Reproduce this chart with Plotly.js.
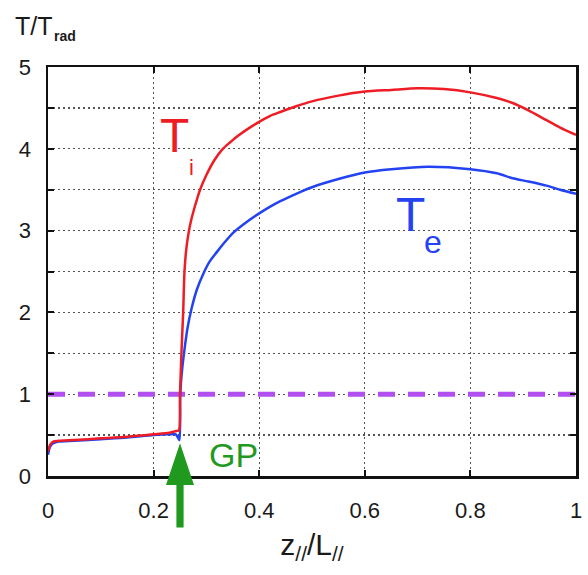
<!DOCTYPE html>
<html>
<head>
<meta charset="utf-8">
<script src="https://cdn.plot.ly/plotly-3.0.1.min.js"></script>
<style>
  html, body { margin: 0; padding: 0; background: #fff; }
  #chart { width: 588px; height: 575px; }
</style>
</head>
<body>
<div id="chart"></div>
<script>
// Ion temperature profile along the field line (normalised)
const zTi = [0, 0.004, 0.01, 0.02, 0.05, 0.10, 0.15, 0.20, 0.23, 0.243, 0.248,
  0.250, 0.253, 0.256, 0.2585, 0.262, 0.267, 0.272, 0.277, 0.282, 0.288, 0.30,
  0.315, 0.331, 0.345, 0.36, 0.38, 0.40, 0.42, 0.44, 0.47, 0.50, 0.55, 0.60,
  0.65, 0.70, 0.75, 0.80, 0.85, 0.88, 0.91, 0.944, 0.97, 1.0];
const Ti = [0.30, 0.38, 0.42, 0.43, 0.44, 0.46, 0.48, 0.51, 0.53, 0.55, 0.56,
  1.0, 1.55, 2.0, 2.5, 2.78, 3.0, 3.15, 3.27, 3.38, 3.5, 3.68,
  3.86, 4.0, 4.08, 4.16, 4.25, 4.33, 4.40, 4.45, 4.52, 4.58, 4.65, 4.70,
  4.72, 4.74, 4.73, 4.69, 4.62, 4.56, 4.47, 4.35, 4.26, 4.17];

// Electron temperature profile
const zTe = [0, 0.004, 0.01, 0.02, 0.05, 0.10, 0.15, 0.20, 0.23, 0.242, 0.246,
  0.249, 0.2505, 0.254, 0.258, 0.264, 0.272, 0.282, 0.294, 0.306, 0.32, 0.335,
  0.35, 0.375, 0.40, 0.42, 0.44, 0.47, 0.50, 0.55, 0.60, 0.65, 0.72, 0.80,
  0.85, 0.88, 0.91, 0.944, 0.97, 1.0];
const Te = [0.26, 0.36, 0.40, 0.42, 0.43, 0.45, 0.47, 0.50, 0.51, 0.51, 0.47,
  0.44, 1.0, 1.3, 1.52, 1.8, 2.05, 2.28, 2.47, 2.62, 2.74, 2.86,
  2.97, 3.10, 3.21, 3.29, 3.36, 3.45, 3.53, 3.63, 3.71, 3.75, 3.78, 3.75,
  3.70, 3.64, 3.60, 3.55, 3.50, 3.45];

// Reference level T = T_rad
const refX = [0, 1];
const refY = [1, 1];

// Axis ticks
const xTicks = [0, 0.2, 0.4, 0.6, 0.8, 1];
const xTickText = ['0', '0.2', '0.4', '0.6', '0.8', '1'];
const yTicks = [0, 1, 2, 3, 4, 5];
const yTickText = ['0', '1', '2', '3', '4', '5'];
const yMinorTicks = [0.5, 1.5, 2.5, 3.5, 4.5];

// Gas puff location along z
const gpZ = 0.25;

const xRange = [0, 1];
const yRange = [0, 5];
const FONT = 'Liberation Sans, Arial, sans-serif';
const GREEN = '#1f9a1f';
const GRID = { gridcolor: '#555', gridwidth: 1.3, griddash: '2px,3px' };

const traces = [
  { x: refX, y: refY, mode: 'lines', hoverinfo: 'skip',
    line: { color: '#b24ff0', width: 5, dash: '17px,13px' } },
  { x: zTe, y: Te, mode: 'lines', name: 'Te',
    line: { color: '#2342f2', width: 2.5, shape: 'spline', smoothing: 0.7 } },
  { x: zTi, y: Ti, mode: 'lines', name: 'Ti',
    line: { color: '#ee1c24', width: 2.5, shape: 'spline', smoothing: 0.7 } }
];

// arrow below the GP location, drawn in axis-domain units
const gx = (gpZ - xRange[0]) / (xRange[1] - xRange[0]);
const dy = v => (v - yRange[0]) / (yRange[1] - yRange[0]);
const tipY = dy(0.40), baseY = dy(-0.11), tailY = dy(-0.63);
const headHalf = 0.0265, shaftHalf = 0.0068;
const arrowPath = 'M ' + (gx - shaftHalf) + ' ' + tailY +
  ' L ' + (gx - shaftHalf) + ' ' + baseY +
  ' L ' + (gx - headHalf) + ' ' + baseY +
  ' L ' + gx + ' ' + tipY +
  ' L ' + (gx + headHalf) + ' ' + baseY +
  ' L ' + (gx + shaftHalf) + ' ' + baseY +
  ' L ' + (gx + shaftHalf) + ' ' + tailY + ' Z';

const axisCommon = Object.assign({
  showline: true, linecolor: '#111', linewidth: 2.5, mirror: 'ticks',
  ticks: 'inside', ticklen: 6, tickwidth: 2, tickcolor: '#111',
  showgrid: true, zeroline: false, tickmode: 'array',
  tickfont: { family: FONT, size: 22, color: '#1a1a1a' }
}, GRID);

const layout = {
  width: 588, height: 575,
  margin: { l: 48, r: 12, t: 67, b: 99 },
  paper_bgcolor: '#fff', plot_bgcolor: '#fff',
  showlegend: false,
  xaxis: Object.assign({}, axisCommon, {
    range: xRange, tickvals: xTicks, ticktext: xTickText,
    ticklabelstandoff: 13,
    title: { text: 'z<sub>//</sub>/L<sub>//</sub>', standoff: 12,
      font: { family: FONT, size: 30, color: '#1a1a1a' } }
  }),
  yaxis: Object.assign({}, axisCommon, {
    range: yRange, tickvals: yTicks, ticktext: yTickText,
    ticklabelstandoff: 10,
    minor: Object.assign({ tickmode: 'array', tickvals: yMinorTicks,
      ticks: 'inside', ticklen: 6, tickwidth: 2, tickcolor: '#111',
      showgrid: true }, GRID)
  }),
  shapes: [
    { type: 'path', xref: 'x domain', yref: 'y domain', path: arrowPath,
      fillcolor: GREEN, line: { width: 0 }, layer: 'above' }
  ],
  annotations: [
    { xref: 'paper', yref: 'paper', x: -0.066, y: 1.14, xanchor: 'left', yanchor: 'top',
      text: 'T/T', showarrow: false, font: { family: FONT, size: 25, color: '#1a1a1a' } },
    { xref: 'paper', yref: 'paper', x: 0.008, y: 1.1, xanchor: 'left', yanchor: 'top',
      text: '<b>rad</b>', showarrow: false, font: { family: FONT, size: 14, color: '#1a1a1a' } },
    { x: 0.239, y: 4.16, text: 'T', showarrow: false,
      font: { family: FONT, size: 48, color: '#ee1c24' } },
    { x: 0.272, y: 3.77, text: 'i', showarrow: false,
      font: { family: FONT, size: 22, color: '#ee1c24' } },
    { x: 0.686, y: 3.2, text: 'T', showarrow: false,
      font: { family: FONT, size: 48, color: '#2342f2' } },
    { x: 0.730, y: 2.86, text: 'e', showarrow: false,
      font: { family: FONT, size: 32, color: '#2342f2' } },
    { x: 0.351, y: 0.26, text: 'GP', showarrow: false,
      font: { family: FONT, size: 34, color: GREEN } }
  ]
};

Plotly.newPlot('chart', traces, layout, { staticPlot: true, displayModeBar: false });
</script>
</body>
</html>
